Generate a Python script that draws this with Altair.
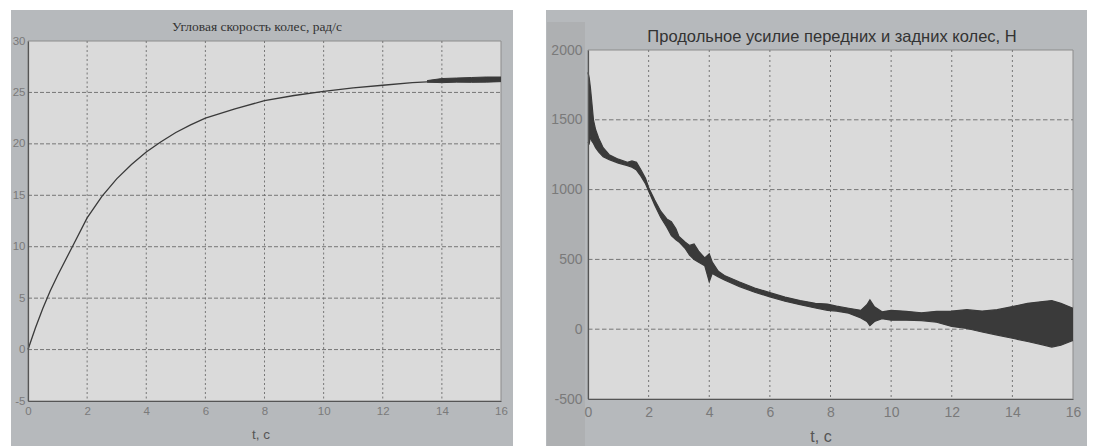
import altair as alt
import pandas as pd

# ---- left panel: wheel angular velocity, rad/s ----
w_title = "Угловая скорость колес, рад/с"
w_xlabel = "t, c"
w_t = [0, 0.25, 0.5, 0.75, 1, 1.5, 2, 2.5, 3, 3.5, 4, 4.5, 5, 5.5, 6, 7, 8, 9,
       10, 11, 12, 13, 14, 15, 16]
w_val = [0, 2.1, 4.0, 5.7, 7.2, 10.0, 12.8, 14.9, 16.6, 18.0, 19.2, 20.2, 21.1,
         21.85, 22.5, 23.4, 24.2, 24.7, 25.1, 25.45, 25.7, 25.95, 26.1, 26.2, 26.3]
# ripple envelope at the end of the run
w_band_t = [13.5, 14, 14.5, 15, 15.5, 16]
w_band_lo = [26.0, 25.95, 26.0, 25.98, 26.0, 26.05]
w_band_hi = [26.15, 26.35, 26.4, 26.45, 26.5, 26.5]
w_xticks = [0, 2, 4, 6, 8, 10, 12, 14, 16]
w_yticks = [-5, 0, 5, 10, 15, 20, 25, 30]

# ---- right panel: longitudinal force of front and rear wheels, N ----
f_title = "Продольное усилие передних и задних колес, Н"
f_xlabel = "t, c"
f_t = [0.00, 0.04, 0.08, 0.12, 0.18, 0.25, 0.35, 0.50, 0.70, 1.00, 1.30, 1.45,
       1.60, 1.75, 1.90, 2.00, 2.20, 2.40, 2.60, 2.75, 2.90, 3.00, 3.20, 3.35,
       3.50, 3.65, 3.85, 4.00, 4.10, 4.30, 4.50, 5.00, 5.50, 6.00, 6.50, 7.00,
       7.50, 7.90, 8.20, 8.60, 9.00, 9.20, 9.30, 9.45, 9.70, 10.0, 10.5, 11.0,
       11.5, 12.0, 12.5, 13.0, 13.5, 14.0, 14.5, 15.0, 15.3, 15.6, 16.0]
f_lo = [1340, 1330, 1380, 1350, 1330, 1300, 1270, 1235, 1215, 1190, 1172, 1160,
        1140, 1095, 1040, 990, 890, 800, 730, 670, 640, 625, 580, 530,
        500, 480, 455, 340, 400, 375, 352, 305, 265, 232, 200, 176,
        152, 135, 130, 115, 80, 55, 25, 55, 75, 65, 65, 62,
        50, 20, 5, -20, -42, -65, -88, -112, -128, -115, -80]
f_hi = [1840, 1800, 1730, 1640, 1500, 1430, 1370, 1300, 1250, 1218, 1196, 1205,
        1195, 1140, 1080, 1015, 925, 845, 790, 770, 720, 665, 625, 600,
        610, 560, 510, 540, 480, 415, 385, 338, 295, 262, 230, 205,
        185, 180, 165, 150, 135, 175, 210, 160, 125, 135, 128, 118,
        128, 130, 140, 130, 140, 162, 185, 198, 205, 185, 150]
f_xticks = [0, 2, 4, 6, 8, 10, 12, 14, 16]
f_yticks = [-500, 0, 500, 1000, 1500, 2000]

WHITE = "#ffffff"
FRAME = "#b6b9bc"
STRIP = "#aeb0b2"
PLOT = "#dadada"
GRID = "#767676"
INK = "#3a3a3a"
LABEL = "#7a7a7a"
ONE = pd.DataFrame({"k": [0]})


def axis(values, size, pad):
    return alt.Axis(
        values=values, title=None, grid=False, ticks=False, domain=True,
        domainColor="#555555", domainWidth=1.2,
        labelFont="Liberation Sans", labelFontSize=size, labelColor=LABEL,
        labelPadding=pad, labelFlush=False, labelOverlap=False, labelBound=False,
        labelExpr="'' + datum.value", zindex=1,
    )


def panel(W, H, top, frame, strip, xticks, yticks, ydom, t, v, band, title,
          tfont, tsize, tweight, tpos, xlabel, xl_pos, lsize, xpad, ypad,
          hdash, vdash):
    # the plot area spans y = top .. H inside the view
    xs = alt.Scale(domain=[0, 16], nice=False, zero=False)
    ys = alt.Scale(domain=ydom, range=[H, top], nice=False, zero=False)
    xa = axis(xticks, lsize, xpad)
    ya = axis(yticks, lsize, ypad)
    fl, fr, ft, fb = frame

    layers = [
        alt.Chart(ONE).mark_rect(color=FRAME).encode(
            x=alt.value(fl), x2=alt.value(W + fr),
            y=alt.value(ft), y2=alt.value(H + fb)),
    ]
    if strip is not None:
        sl, sr, st, sb = strip
        layers.append(alt.Chart(ONE).mark_rect(color=STRIP).encode(
            x=alt.value(sl), x2=alt.value(sr),
            y=alt.value(st), y2=alt.value(H + sb)))
    layers += [
        alt.Chart(ONE).mark_rect(color=PLOT, stroke="#8c8c8c", strokeWidth=1).encode(
            x=alt.value(0), x2=alt.value(W), y=alt.value(top), y2=alt.value(H)),
        alt.Chart(pd.DataFrame({"t": xticks[1:-1]})).mark_rule(
            color=GRID, strokeWidth=1, strokeDash=vdash).encode(
            x=alt.X("t:Q", scale=xs, axis=xa), y=alt.value(top), y2=alt.value(H)),
        alt.Chart(pd.DataFrame({"v": yticks[1:-1]})).mark_rule(
            color=GRID, strokeWidth=1, strokeDash=hdash).encode(
            y=alt.Y("v:Q", scale=ys, axis=ya), x=alt.value(0), x2=alt.value(W)),
    ]
    bt, blo, bhi, bw = band
    bdf = pd.DataFrame({"t": bt, "v": blo, "hi": bhi})
    layers += [
        alt.Chart(bdf).mark_area(color=INK, opacity=1).encode(
            x=alt.X("t:Q", scale=xs, axis=xa),
            y=alt.Y("v:Q", scale=ys, axis=ya), y2="hi:Q"),
        alt.Chart(bdf).mark_line(color=INK, strokeWidth=bw).encode(
            x=alt.X("t:Q", scale=xs, axis=xa), y=alt.Y("v:Q", scale=ys, axis=ya)),
        alt.Chart(bdf).mark_line(color=INK, strokeWidth=bw).encode(
            x=alt.X("t:Q", scale=xs, axis=xa), y=alt.Y("hi:Q", scale=ys, axis=ya)),
    ]
    if t is not None:
        layers.append(
            alt.Chart(pd.DataFrame({"t": t, "v": v})).mark_line(
                color=INK, strokeWidth=1.3).encode(
                x=alt.X("t:Q", scale=xs, axis=xa),
                y=alt.Y("v:Q", scale=ys, axis=ya)))
    layers += [
        alt.Chart(ONE).mark_text(font=tfont, fontSize=tsize, fontWeight=tweight,
                                 color="#333333", align="center",
                                 baseline="middle").encode(
            x=alt.value(tpos[0]), y=alt.value(tpos[1]), text=alt.value(title)),
        alt.Chart(ONE).mark_text(font="Liberation Sans", fontSize=lsize + 2,
                                 color="#555555", align="center",
                                 baseline="middle").encode(
            x=alt.value(xl_pos[0]), y=alt.value(H + xl_pos[1]),
            text=alt.value(xlabel)),
    ]
    return alt.layer(*layers).properties(width=W, height=H)


left = panel(
    473, 360, 0, (-17, 12, -31, 45), None, w_xticks, w_yticks, [-5, 30],
    w_t, w_val, (w_band_t, w_band_lo, w_band_hi, 1.0),
    w_title, "Liberation Serif", 13.5, "normal", (229, -14),
    w_xlabel, (233, 34), 11.5, 4, 3, [4, 2], [2, 2.5])

right = panel(
    485, 358, 9, (-42, 14, -31, 47), (-41, -3, -19, 47), f_xticks, f_yticks,
    [-500, 2000], None, None, (f_t, f_lo, f_hi, 1.2),
    f_title, "Liberation Sans", 16.5, "normal", (244, -4),
    f_xlabel, (233, 38), 14, 6, 6, [4.5, 2.5], [2, 3])

chart = alt.hconcat(left, right, spacing=33).properties(
    padding={"left": 11, "top": 10, "right": 0, "bottom": 0},
    background=WHITE,
).configure_view(stroke=None)

chart.save("out.html", embed_options={"renderer": "svg", "actions": False})
